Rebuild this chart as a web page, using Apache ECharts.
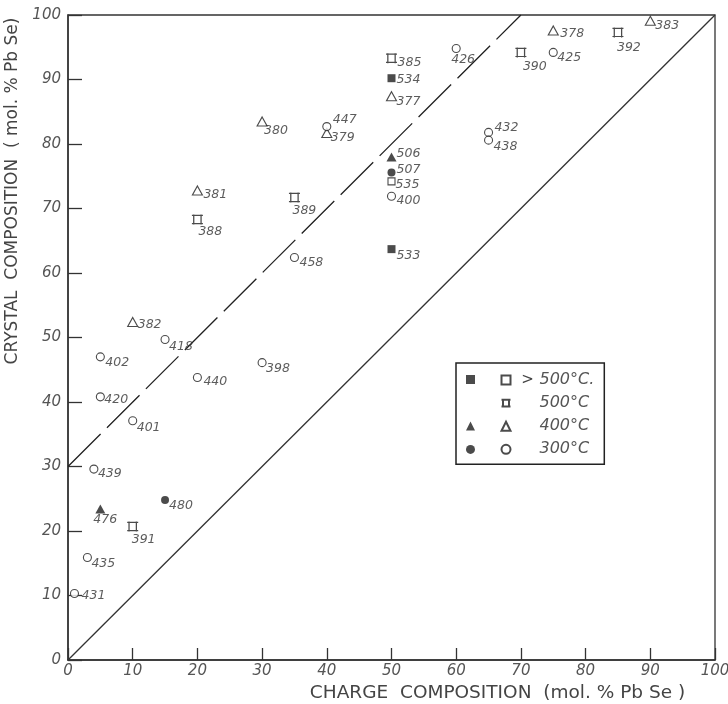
<!DOCTYPE html>
<html><head><meta charset="utf-8">
<script src="https://cdn.jsdelivr.net/npm/echarts@6/dist/echarts.min.js"></script>
<style>html,body{margin:0;padding:0;background:#fff}#c{width:728px;height:704px}</style>
</head><body><div id="c"></div>
<script>
// ---- data (charge %, crystal %, sample id) ----
const gt500Filled = [[50, 90.2, '534'], [50, 63.7, '533']];
const gt500Open = [[50, 74.2, '535']];
const at500 = [[50, 93.3, '385'], [20, 68.3, '388'], [35, 71.7, '389'], [70, 94.2, '390'], [85, 97.3, '392'], [10, 20.7, '391']];
const t400Filled = [[50, 78.0, '506'], [5, 23.4, '476']];
const t400Open = [[30, 83.5, '380'], [40, 81.7, '379'], [20, 72.8, '381'], [10, 52.4, '382'], [50, 87.4, '377'], [75, 97.6, '378'], [90, 99.1, '383']];
const t300Filled = [[50, 75.6, '507'], [15, 24.8, '480']];
const t300Open = [[40, 82.7, '447'], [35, 62.4, '458'], [60, 94.8, '426'], [75, 94.2, '425'], [65, 81.8, '432'], [65, 80.6, '438'], [50, 71.9, '400'], [15, 49.7, '418'], [5, 47.0, '402'], [30, 46.1, '398'], [20, 43.8, '440'], [5, 40.8, '420'], [10, 37.1, '401'], [4, 29.6, '439'], [3, 15.9, '435'], [1, 10.3, '431']];
const diagonalLine = [[0, 0], [100, 100]];
const dashedLine = [[0, 30], [70, 100]];
const legendLabels = ['> 500°C.', '500°C', '400°C', '300°C'];
const xTitle = 'CHARGE  COMPOSITION  (mol. % Pb Se )';
const yTitle = 'CRYSTAL  COMPOSITION  ( mol. % Pb Se)';

// ---- label placement (style only: text left / vertical centre relative to symbol centre) ----
const labelOffset = {
  '380': [2, 9], '447': [6, -7], '379': [4, 5], '381': [6, 4], '388': [1, 12], '389': [-2, 13],
  '458': [5, 5], '382': [5, 3], '385': [6, 5], '534': [5, 2], '377': [5, 5], '426': [-5, 11],
  '390': [2, 14], '378': [7, 3], '425': [4, 5], '392': [-1, 15], '383': [5, 5], '432': [6, -5],
  '438': [5, 7], '506': [5, -3], '507': [5, -3], '535': [4, 3], '400': [5, 5], '533': [5, 7],
  '418': [4, 7], '402': [5, 6], '398': [4, 6], '440': [6, 4], '420': [4, 3], '401': [4, 7],
  '439': [4, 5], '480': [4, 6], '476': [-7, 11], '391': [-1, 13], '435': [4, 6], '431': [7, 2]
};

const INK = '#1e1e1e';
const FONT = 'DejaVu Sans';
function pts(arr) {
  return arr.map(d => ({
    value: [d[0], d[1]], name: d[2],
    label: { offset: labelOffset[d[2]] || [5, 0] }
  }));
}
const baseLabel = {
  show: true, position: 'inside', align: 'left', verticalAlign: 'middle',
  formatter: p => p.name, fontSize: 12.5, fontStyle: 'italic', fontFamily: FONT, color: '#333'
};
const filled = { color: INK, borderColor: INK, borderWidth: 0 };
const open = { color: '#fff', borderColor: INK, borderWidth: 1.1 };
const sym500 = 'path://M0,1 L12,1 M2,0 L2,11 M10,0 L10,11 M0,10 L12,10';

function sc(name, data, symbol, size, style) {
  return {
    type: 'scatter', name, data: pts(data), symbol, symbolSize: size,
    itemStyle: style, label: baseLabel, emphasis: { disabled: true }, z: 5
  };
}

const legendText = { gt500O: legendLabels[0], t500: legendLabels[1], t400O: legendLabels[2], t300O: legendLabels[3] };

const option = {
  animation: false,
  backgroundColor: '#fff',
  grid: { left: 68, right: 13, top: 15, bottom: 44, show: true, borderColor: '#333', borderWidth: 1.3, containLabel: false, outerBoundsMode: 'none' },
  xAxis: {
    type: 'value', min: 0, max: 100, interval: 10,
    axisLine: { show: true, lineStyle: { color: '#333', width: 1.5 } },
    axisTick: { show: true, inside: true, length: 12, lineStyle: { color: '#333', width: 1.3 } },
    axisLabel: { fontSize: 15, fontStyle: 'italic', color: '#555', margin: 4, fontFamily: FONT },
    splitLine: { show: false },
    name: xTitle, nameLocation: 'middle', nameGap: 19,
    nameTextStyle: { fontSize: 18.5, color: '#444', fontFamily: FONT, padding: [0, 0, 0, 212] }
  },
  yAxis: {
    type: 'value', min: 0, max: 100, interval: 10,
    axisLine: { show: true, lineStyle: { color: '#333', width: 1.5 } },
    axisTick: { show: true, inside: true, length: 14, lineStyle: { color: '#333', width: 1.3 } },
    axisLabel: { fontSize: 15, fontStyle: 'italic', color: '#555', margin: 7, fontFamily: FONT },
    splitLine: { show: false },
    name: yTitle, nameLocation: 'middle', nameGap: 41,
    nameTextStyle: { fontSize: 17, color: '#444', fontFamily: FONT, padding: [0, 0, 0, 293] }
  },
  legend: [
    {
      data: ['gt500O', 't500', 't400O', 't300O'], orient: 'vertical', left: 456, top: 363,
      padding: [9, 10, 7, 43], itemWidth: 9, itemHeight: 9, itemGap: 7.1,
      borderColor: '#222', borderWidth: 1.5, selectedMode: false,
      formatter: n => '{g|' + (n === 'gt500O' ? '>' : ' ') + '}{t|' + legendText[n].replace(/^> /, '') + '}',
      textStyle: {
        rich: {
          g: { width: 24, align: 'center', fontSize: 15, color: '#444', fontFamily: FONT },
          t: { fontSize: 16, fontStyle: 'italic', color: '#555', fontFamily: FONT }
        }
      }
    },
    {
      data: ['gt500F'], left: 466, top: 375, padding: 0, itemWidth: 9, itemHeight: 9,
      selectedMode: false, formatter: () => ''
    },
    {
      data: ['t400F', 't300F'], orient: 'vertical', left: 466, top: 421.6, padding: 0,
      itemWidth: 9, itemHeight: 9, itemGap: 14.3, selectedMode: false, formatter: () => ''
    }
  ],
  series: [
    { type: 'line', data: diagonalLine, symbol: 'none', silent: true, lineStyle: { color: '#333', width: 1.3 }, z: 2 },
    { type: 'line', data: dashedLine, symbol: 'none', silent: true, lineStyle: { color: '#222', width: 1.3, type: [46, 9] }, z: 2 },
    sc('gt500F', gt500Filled, 'rect', 8, filled),
    sc('gt500O', gt500Open, 'rect', 7, open),
    sc('t500', at500, sym500, [11, 10], { color: 'none', borderColor: INK, borderWidth: 1.2 }),
    sc('t400F', t400Filled, 'triangle', [10, 9], filled),
    sc('t400O', t400Open, 'triangle', [10, 9], open),
    sc('t300F', t300Filled, 'circle', 8, filled),
    sc('t300O', t300Open, 'circle', 8, open)
  ]
};
echarts.init(document.getElementById('c'), null, { renderer: 'canvas' }).setOption(option);
</script></body></html>
